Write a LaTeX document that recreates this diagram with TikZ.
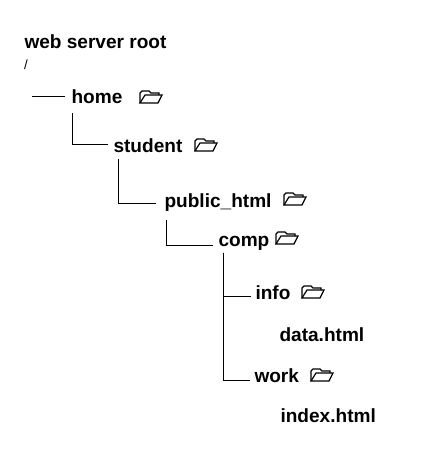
\documentclass[tikz,border=0pt]{standalone}
\usepackage{fontspec}
\setmainfont{Liberation Sans}
\tikzset{
    dirname/.style={anchor=base west, inner sep=0pt, text height=11pt, text depth=3pt, font=\fontsize{14.3pt}{16pt}\bfseries},
    foldericon/.pic={
        \draw[line width=0.9pt, line join=miter]
            (0,13) -- (0,3) -- (2,1) -- (9,1) -- (11,3) -- (19,3) -- (19,5);
        \draw[line width=0.9pt] (0,13) -- (5,5) -- (22,5) -- (18,13) -- cycle;
    }
}
\begin{document}
\begin{tikzpicture}[x=0.75pt, y=-0.75pt, line width=0.75pt]
    \useasboundingbox (0,0) rectangle (439,452);

    % Titel
    \node[dirname] (root) at (24,49) {web server root};
    \node[anchor=base west, inner sep=0pt, font=\fontsize{12pt}{13pt}] (slash) at (23.5,70) {/};

    % Verzeichnisse
    \node[dirname] (home) at (71,104) {home};
    \node[dirname] (student) at (113,153) {student};
    \node[dirname] (public) at (164,207.5) {public\_html};
    \node[dirname] (comp) at (218,246) {comp};
    \node[dirname] (info) at (255,299) {info};
    \node[dirname] (data) at (279,341.5) {data.html};
    \node[dirname] (work) at (254,382.5) {work};
    \node[dirname] (index) at (280,422.5) {index.html};

    % Ordner
    \pic at (140,90) {foldericon};
    \pic at (195,138) {foldericon};
    \pic at (284,192) {foldericon};
    \pic at (276,231) {foldericon};
    \pic at (302,285) {foldericon};
    \pic at (311,368) {foldericon};

    % Linien
    \coordinate (start) at (32,97);
    \draw[shorten >=4.5pt] (start) -- ([yshift=5.25pt]home.base west);
    \draw[shorten <=3.75pt, shorten >=3.75pt] ([xshift=0.75pt]home.south west) |- ([yshift=6pt]student.base west);
    \draw[shorten <=1.5pt, shorten >=6pt] ([xshift=3.75pt]student.south west) |- ([yshift=3.25pt]public.base west);
    \draw[shorten <=6pt, shorten >=3.75pt] ([xshift=1.5pt]public.south west) |- ([yshift=0.25pt]comp.base west);
    \draw[shorten <=1.5pt, shorten >=3pt] ([xshift=3.75pt]comp.south west) |- ([yshift=2.25pt]info.base west);
    \draw[shorten <=1.5pt, shorten >=3pt] ([xshift=3.75pt]comp.south west) |- ([yshift=1.75pt]work.base west);
\end{tikzpicture}
\end{document}
